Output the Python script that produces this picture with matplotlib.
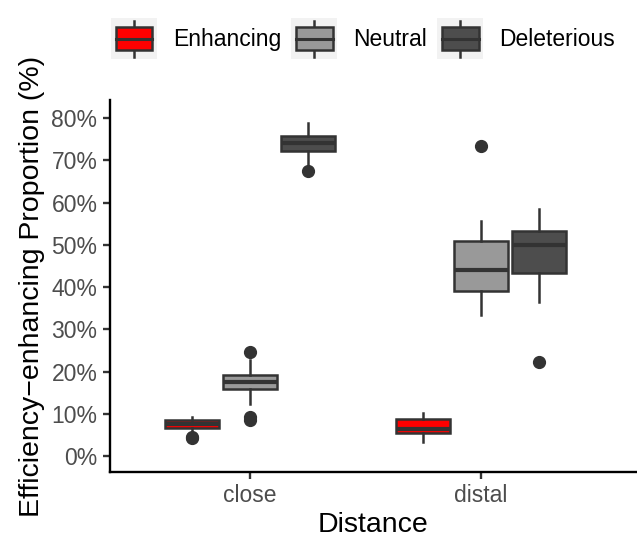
"""Boxplots of efficiency-enhancing proportion by distance and mutation class."""
import matplotlib
matplotlib.use("Agg")
import matplotlib.pyplot as plt
from matplotlib.legend_handler import HandlerBase
from matplotlib.patches import Rectangle
from matplotlib.lines import Line2D

plt.rcParams['font.family'] = ['Liberation Sans', 'DejaVu Sans']

distances = ["close", "distal"]
classes = ["Enhancing", "Neutral", "Deleterious"]
fills = ["#FF0000", "#999999", "#4D4D4D"]

# five-number summaries, in percent
# (whislo, q1, med, q3, whishi)
summaries = {
    ("close", "Enhancing"): (5.8, 6.6, 7.5, 8.5, 9.3),
    ("close", "Neutral"): (12.3, 15.9, 17.4, 19.2, 22.7),
    ("close", "Deleterious"): (68.9, 72.3, 74.2, 75.8, 78.9),
    ("distal", "Enhancing"): (3.2, 5.4, 6.3, 8.7, 10.1),
    ("distal", "Neutral"): (33.4, 39.1, 44.0, 50.9, 55.7),
    ("distal", "Deleterious"): (36.5, 43.4, 49.9, 53.3, 58.6),
}
outliers = {
    ("close", "Enhancing"): [4.3, 4.6],
    ("close", "Neutral"): [24.7, 9.3, 8.5],
    ("close", "Deleterious"): [67.5],
    ("distal", "Enhancing"): [],
    ("distal", "Neutral"): [73.4],
    ("distal", "Deleterious"): [22.3],
}

EDGE = "#333333"


class BoxKeyHandler(HandlerBase):
    def __init__(self, fill):
        super().__init__()
        self.fill = fill

    def create_artists(self, legend, orig_handle, xdescent, ydescent,
                       width, height, fontsize, trans):
        x0, y0 = -xdescent, -ydescent
        bg = Rectangle((x0, y0), width, height,
                       facecolor="#F2F2F2", edgecolor="none", transform=trans)
        cx = x0 + width / 2
        whisk = Line2D([cx, cx], [y0 + 0.07 * height, y0 + 0.93 * height],
                       color=EDGE, lw=1.8, transform=trans)
        box = Rectangle((x0 + 0.1 * width, y0 + 0.22 * height),
                        width * 0.8, height * 0.56,
                        facecolor=self.fill, edgecolor=EDGE, lw=1.8,
                        transform=trans)
        med = Line2D([x0 + 0.1 * width, x0 + 0.9 * width],
                     [y0 + 0.5 * height, y0 + 0.5 * height],
                     color=EDGE, lw=2.2, transform=trans)
        return [bg, whisk, box, med]


def main():
    fig = plt.figure(figsize=(6.37, 5.39), dpi=100)
    ax = fig.add_axes([110 / 637, 67 / 539, 527 / 637, 372 / 539])

    width = 0.25
    for i, d in enumerate(distances):
        for j, c in enumerate(classes):
            lo, q1, med, q3, hi = summaries[(d, c)]
            stats = [dict(whislo=lo, q1=q1, med=med, q3=q3, whishi=hi,
                          fliers=outliers[(d, c)])]
            pos = i + 1 + (j - 1) * width
            ax.bxp(stats, positions=[pos], widths=0.235, patch_artist=True,
                   showcaps=False, manage_ticks=False,
                   boxprops=dict(facecolor=fills[j], edgecolor=EDGE, lw=1.8),
                   medianprops=dict(color=EDGE, lw=3.0, solid_capstyle="butt"),
                   whiskerprops=dict(color=EDGE, lw=1.8),
                   flierprops=dict(marker="o", markerfacecolor=EDGE,
                                   markeredgecolor=EDGE, markersize=8.5))

    ax.set_xlim(0.394, 2.675)
    ax.set_ylim(-3.8, 84.3)
    ax.set_xticks([1, 2])
    ax.set_xticklabels(distances)
    ax.set_yticks(range(0, 81, 10))
    ax.set_yticklabels(["%d%%" % v for v in range(0, 81, 10)])
    ax.tick_params(colors="#4D4D4D", labelsize=16.5, length=5, width=1.7,
                   pad=4)
    ax.tick_params(axis="both", color=EDGE)
    for s in ["top", "right"]:
        ax.spines[s].set_visible(False)
    for s in ["left", "bottom"]:
        ax.spines[s].set_linewidth(1.7)
        ax.spines[s].set_color("black")

    ax.set_xlabel("Distance", fontsize=20.5, labelpad=3)
    ax.set_ylabel("Efficiency\u2212enhancing Proportion (%)", fontsize=20.5,
                  labelpad=5)

    handles = [Rectangle((0, 0), 1, 1) for _ in classes]
    handler_map = {h: BoxKeyHandler(f) for h, f in zip(handles, fills)}
    fig.legend(handles, classes, handler_map=handler_map, ncol=3,
               loc="upper left", bbox_to_anchor=(95 / 637, 1 - 2 / 539),
               frameon=False, fontsize=16.5, handlelength=2.0,
               handleheight=2.4, handletextpad=0.7, columnspacing=0.45,
               borderpad=0.2)

    fig.savefig("out.png", dpi=100)


if __name__ == "__main__":
    main()
